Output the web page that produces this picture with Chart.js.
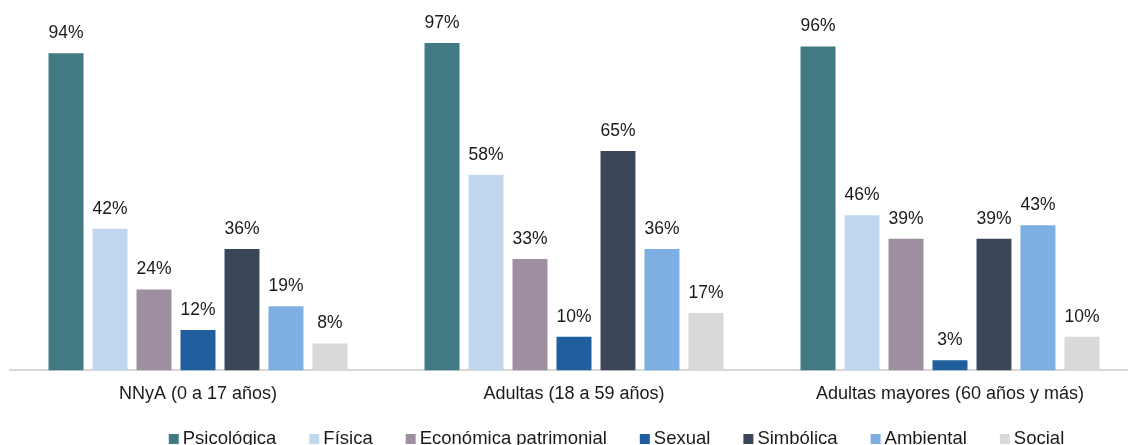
<!DOCTYPE html>
<html>
<head>
<meta charset="utf-8">
<script src="https://cdn.jsdelivr.net/npm/chart.js@4/dist/chart.umd.min.js"></script>
<style>
  html, body { margin: 0; padding: 0; background: #ffffff; overflow: hidden; }
  #wrap { position: relative; width: 1140px; height: 445px; }
</style>
</head>
<body>
<div id="wrap"><canvas id="c" width="1140" height="445"></canvas></div>
<script>
const categories = ["NNyA (0 a 17 años)", "Adultas (18 a 59 años)", "Adultas mayores (60 años y más)"];
const seriesNames = ["Psicológica", "Física", "Económica patrimonial", "Sexual", "Simbólica", "Ambiental", "Social"];
const psicologica = [94, 97, 96];
const fisica = [42, 58, 46];
const economica = [24, 33, 39];
const sexual = [12, 10, 3];
const simbolica = [36, 65, 39];
const ambiental = [19, 36, 43];
const social = [8, 17, 10];
const seriesColors = ["#427a84", "#c0d7ed", "#9e8fa0", "#205e9e", "#3c4659", "#7eafe3", "#d9d9d9"];

const seriesValues = [psicologica, fisica, economica, sexual, simbolica, ambiental, social];
const FONT = '"Liberation Sans", Arial, sans-serif';

const valueLabels = {
  id: 'valueLabels',
  afterDatasetsDraw(chart) {
    const ctx = chart.ctx;
    ctx.save();
    ctx.font = '17.5px ' + FONT;
    ctx.fillStyle = '#1a1a1a';
    ctx.textAlign = 'center';
    ctx.textBaseline = 'alphabetic';
    chart.data.datasets.forEach((ds, i) => {
      const meta = chart.getDatasetMeta(i);
      meta.data.forEach((bar, j) => {
        ctx.fillText(ds.data[j] + '%', bar.x, bar.y - 15);
      });
    });
    ctx.restore();
  }
};

const customLegend = {
  id: 'customLegend',
  afterDraw(chart) {
    const ctx = chart.ctx;
    ctx.save();
    ctx.font = '18.5px ' + FONT;
    ctx.textBaseline = 'alphabetic';
    ctx.textAlign = 'left';
    const box = 10, gapText = 4, gapItem = 33;
    const items = chart.data.datasets.map(ds => ({ label: ds.label, color: ds.backgroundColor, w: ctx.measureText(ds.label).width }));
    let total = 0;
    items.forEach((it, k) => { total += box + gapText + it.w + (k < items.length - 1 ? gapItem : 0); });
    let x = 616.5 - total / 2;
    const baseline = 444;
    items.forEach(it => {
      ctx.fillStyle = it.color;
      ctx.fillRect(x, baseline - 10, box, box);
      ctx.fillStyle = '#1a1a1a';
      ctx.fillText(it.label, x + box + gapText, baseline);
      x += box + gapText + it.w + gapItem;
    });
    ctx.restore();
  }
};

new Chart(document.getElementById('c'), {
  type: 'bar',
  data: {
    labels: categories,
    datasets: seriesNames.map((name, i) => ({
      label: name,
      data: seriesValues[i],
      backgroundColor: seriesColors[i],
      borderWidth: 0,
      categoryPercentage: 0.819,
      barPercentage: 0.795
    }))
  },
  options: {
    responsive: false,
    animation: false,
    devicePixelRatio: 1,
    layout: { padding: { left: 10, right: 2, top: 33, bottom: 27 } },
    plugins: {
      legend: { display: false },
      tooltip: { enabled: false }
    },
    scales: {
      x: {
        grid: { display: false, drawTicks: false },
        border: { display: true, color: '#d9d9d9', width: 2 },
        ticks: { color: '#1a1a1a', font: { family: FONT, size: 18 }, padding: 13, maxRotation: 0, autoSkip: false }
      },
      y: {
        display: false,
        min: 0,
        max: 100
      }
    }
  },
  plugins: [valueLabels, customLegend]
});
</script>
</body>
</html>
